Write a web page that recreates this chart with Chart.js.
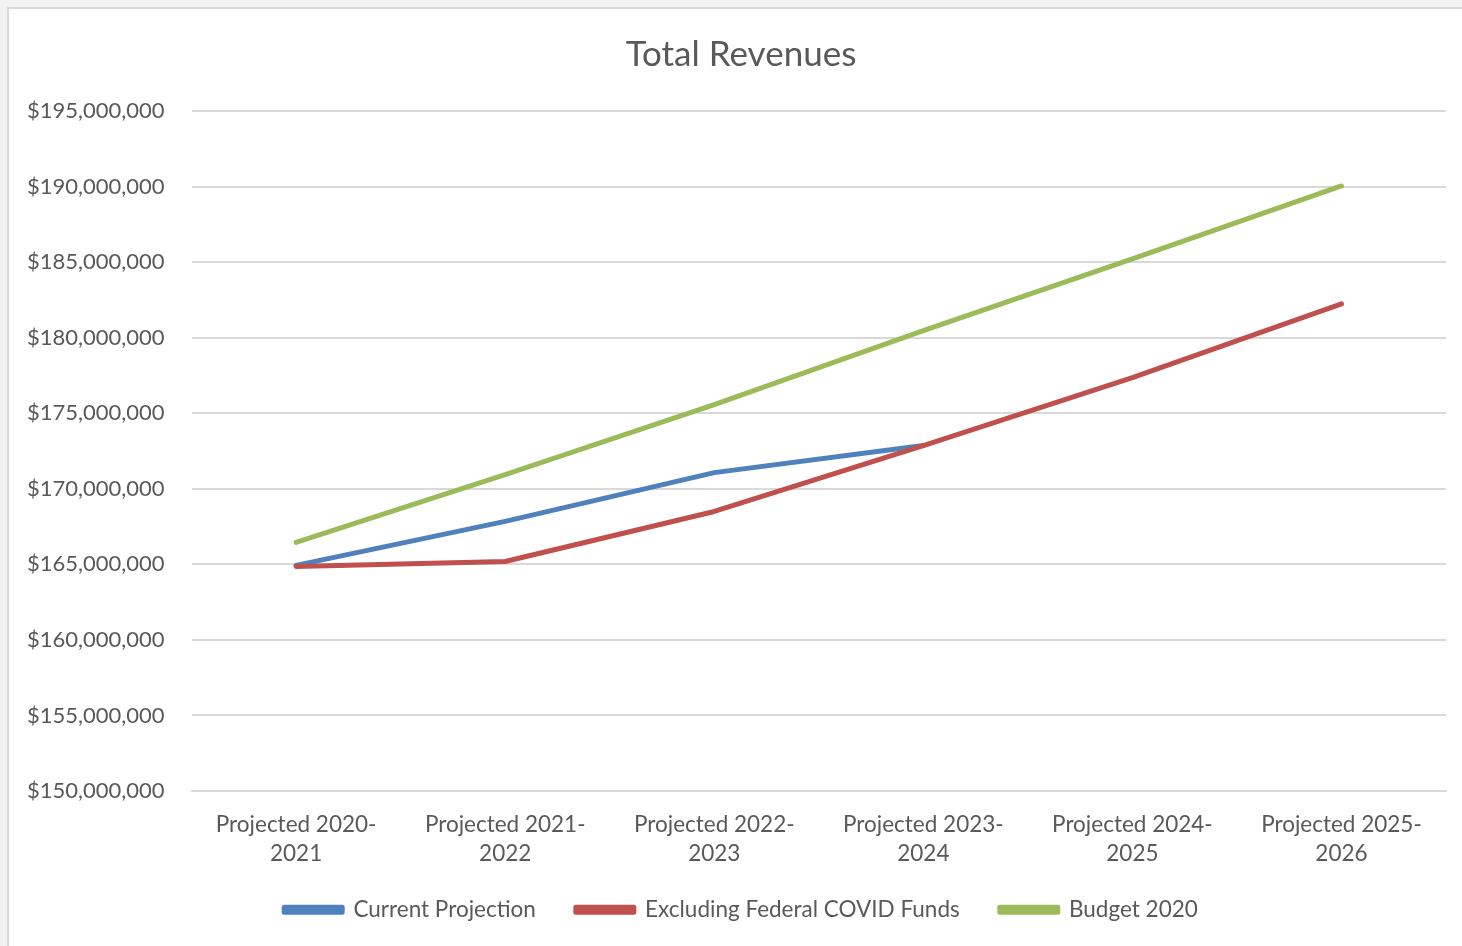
<!DOCTYPE html>
<html>
<head>
<meta charset="utf-8">
<script src="https://cdn.jsdelivr.net/npm/chart.js@4/dist/chart.umd.min.js"></script>
<style>
  html, body { margin: 0; padding: 0; background: #f2f2f2; overflow: hidden; }
  #wrap {
    position: absolute; left: 7px; top: 7px; width: 1455px; height: 939px;
    background: #fff; border-left: 2px solid #d9d9d9; border-top: 2px solid #d9d9d9;
    box-sizing: border-box; overflow: hidden;
  }
  #box { position: absolute; left: 0; top: 0; width: 1473px; height: 937px; }
</style>
</head>
<body>
<div id="wrap"><div id="box"><canvas id="revChart"></canvas></div></div>
<script>
// fiscal years on the x axis
var years = [
  ["Projected 2020-", "2021"],
  ["Projected 2021-", "2022"],
  ["Projected 2022-", "2023"],
  ["Projected 2023-", "2024"],
  ["Projected 2024-", "2025"],
  ["Projected 2025-", "2026"]
];
// revenues in dollars
var current_data = [164930000, 167840000, 171070000, 172860000, null, null];
var excl_covid_data = [164860000, 165190000, 168500000, 172860000, 177350000, 182240000];
var budget_data = [166450000, 170940000, 175570000, 180460000, 185220000, 190040000];

var axis_min = 150000000, axis_max = 195000000, axis_step = 5000000;

var fuente = "Lato, 'Open Sans', sans-serif";
var gris = "#595959";

function dinero(v) {
  return "$" + Number(v).toLocaleString("en-US");
}

// legend padding is big for the gaps between items,
// so move the legend up closer to the year labels
var legendNudge = {
  id: "legendNudge",
  afterLayout: function (chart) {
    chart.legend.top -= 29;
  }
};

var data = {
  labels: years,
  datasets: [
    {
      label: "Current Projection",
      data: current_data,
      borderColor: "#4F81BD",
      backgroundColor: "#4F81BD",
      order: 2
    },
    {
      label: "Excluding Federal COVID Funds",
      data: excl_covid_data,
      borderColor: "#C0504D",
      backgroundColor: "#C0504D",
      order: 1
    },
    {
      label: "Budget 2020",
      data: budget_data,
      borderColor: "#9BBB59",
      backgroundColor: "#9BBB59",
      order: 0
    }
  ]
};

var options = {
  responsive: true,
  maintainAspectRatio: false,
  animation: false,
  layout: { padding: { left: -9, right: 0, top: 18, bottom: -14 } },
  elements: {
    line: { borderWidth: 5, tension: 0, borderCapStyle: "round", borderJoinStyle: "round" },
    point: { radius: 0, hoverRadius: 0 }
  },
  plugins: {
    title: {
      display: true,
      text: "Total Revenues",
      color: gris,
      font: { family: fuente, size: 35, weight: "normal" },
      padding: { top: 7, bottom: 35 }
    },
    legend: {
      display: true,
      position: "bottom",
      labels: {
        color: gris,
        font: { family: fuente, size: 22.5 },
        boxWidth: 58,
        boxHeight: 5,
        padding: 40,
        sort: function (a, b) { return a.datasetIndex - b.datasetIndex; }
      }
    },
    tooltip: { enabled: false }
  },
  scales: {
    x: {
      offset: true,
      grid: { display: false, drawTicks: false },
      border: { display: true, color: "#d9d9d9", width: 2 },
      ticks: {
        color: gris,
        font: { family: fuente, size: 22.5, lineHeight: 1.3 },
        padding: 19,
        maxRotation: 0,
        autoSkip: false
      }
    },
    y: {
      min: axis_min,
      max: axis_max,
      grid: { color: "#d9d9d9", lineWidth: 2, drawTicks: false },
      border: { display: false },
      ticks: {
        stepSize: axis_step,
        color: gris,
        font: { family: fuente, size: 22 },
        padding: 27,
        callback: function (v) { return dinero(v); }
      }
    },
    // empty axis on the right, only keeps a margin so title and legend sit centred
    margenDer: {
      type: "linear",
      position: "right",
      grid: { display: false, drawTicks: false },
      border: { display: false },
      ticks: { display: false },
      afterFit: function (scale) { scale.width = 36; }
    }
  }
};

new Chart(document.getElementById("revChart"), {
  type: "line",
  data: data,
  options: options,
  plugins: [legendNudge]
});
</script>
</body>
</html>
